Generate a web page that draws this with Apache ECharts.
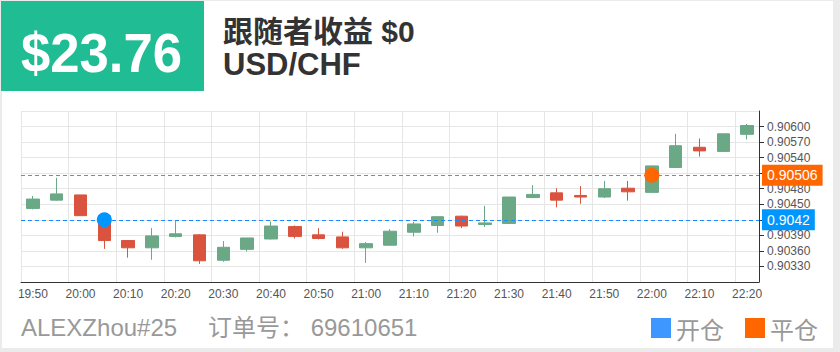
<!DOCTYPE html>
<html>
<head>
<meta charset="utf-8">
<script src="https://cdn.jsdelivr.net/npm/echarts@6/dist/echarts.min.js"></script>
<style>
  html, body { margin: 0; padding: 0; }
  body { width: 840px; height: 352px; background: #ebebeb; position: relative; overflow: hidden; }
  .panel { position: absolute; left: 2px; top: 1px; width: 831px; height: 347px; background: #fff; }
  .profit { position: absolute; left: 1px; top: 1px; width: 203px; height: 90px; background: #20bc94; }
  .txt { position: absolute; white-space: nowrap; font-family: "Liberation Sans", "Noto Sans CJK SC", sans-serif; }
  .profit-val { left: 21px; top: 25px; font-size: 56px; line-height: 56px; font-weight: bold; color: #fff;
                transform: scaleX(0.94); transform-origin: left top; }
  .follow { left: 223px; top: 17px; font-size: 30px; line-height: 30px; font-weight: bold; color: #333; }
  .symbol { left: 223px; top: 49px; font-size: 31px; line-height: 31px; font-weight: bold; color: #333; }
  .footer { top: 316px; font-size: 24px; line-height: 24px; color: #999; }
  #viewEcharts { position: absolute; left: 0; top: 0; width: 840px; height: 352px; }
</style>
</head>
<body>
<div class="panel"></div>
<div class="profit"></div>
<div class="txt profit-val">$23.76</div>
<div class="txt follow">跟随者收益 $0</div>
<div class="txt symbol">USD/CHF</div>
<div class="txt footer" style="left:21px;">ALEXZhou#25</div>
<div class="txt footer" style="left:208px;">订单号： 69610651</div>
<div id="viewEcharts"></div>
<script>
// 5分钟K线
var times = ['19:50','19:55','20:00','20:05','20:10','20:15','20:20','20:25','20:30','20:35',
             '20:40','20:45','20:50','20:55','21:00','21:05','21:10','21:15','21:20','21:25',
             '21:30','21:35','21:40','21:45','21:50','21:55','22:00','22:05','22:10','22:15','22:20'];
var opens  = [0.90442,0.90458,0.90468,0.90428,0.90380,0.90366,0.90388,0.90391,0.90342,0.90363,
              0.90383,0.90407,0.90391,0.90387,0.90366,0.90371,0.90396,0.90409,0.90427,0.90411,
              0.90413,0.90463,0.90472,0.90467,0.90464,0.90481,0.90473,0.90521,0.90560,0.90552,0.90585];
var closes = [0.90460,0.90470,0.90428,0.90380,0.90366,0.90389,0.90393,0.90341,0.90367,0.90385,
              0.90408,0.90388,0.90384,0.90366,0.90374,0.90398,0.90412,0.90426,0.90408,0.90414,
              0.90464,0.90469,0.90458,0.90464,0.90480,0.90474,0.90524,0.90563,0.90553,0.90586,0.90602];
var lows   = [0.90440,0.90457,0.90428,0.90364,0.90347,0.90343,0.90386,0.90335,0.90339,0.90359,
              0.90382,0.90384,0.90382,0.90364,0.90337,0.90370,0.90388,0.90395,0.90404,0.90406,
              0.90413,0.90462,0.90444,0.90451,0.90462,0.90457,0.90473,0.90521,0.90542,0.90551,0.90575];
var highs  = [0.90466,0.90501,0.90468,0.90430,0.90381,0.90404,0.90418,0.90392,0.90379,0.90385,
              0.90417,0.90409,0.90404,0.90397,0.90377,0.90402,0.90416,0.90427,0.90428,0.90447,
              0.90464,0.90487,0.90481,0.90485,0.90495,0.90495,0.90524,0.90586,0.90577,0.90586,0.90605];

// 开仓 / 平仓
var openTime = '20:05';
var openPrice = 0.9042;
var closeTime = '22:00';
var closePrice = 0.90506;

// y轴刻度
var yMin = 0.903;
var yMax = 0.9063;
var yStep = 0.0003;

var candleData = times.map(function (t, i) {
  return [opens[i], closes[i], lows[i], highs[i]];
});

function priceLine(price, lineColor, boxColor) {
  return {
    silent: true,
    symbol: ['none', 'none'],
    precision: 5,
    label: {
      show: true,
      position: 'end',
      distance: 3,
      formatter: '{b}',
      color: '#fff',
      fontSize: 14,
      fontFamily: 'Liberation Sans',
      padding: [4, 5, 3, 5],
      backgroundColor: boxColor
    },
    lineStyle: { color: lineColor, type: [4, 3], width: 1, opacity: 1 },
    data: [{ name: String(price), yAxis: price }]
  };
}

var myChart = echarts.init(document.getElementById('viewEcharts'), null, { renderer: 'svg' });
var option = {
  animation: false,
  legend: {
    left: 651,
    top: 316,
    padding: 0,
    itemWidth: 20,
    itemHeight: 20,
    itemGap: 21,
    icon: 'rect',
    textStyle: { fontSize: 24, color: '#999', fontFamily: 'Noto Sans CJK SC' },
    data: [
      { name: '开仓', icon: 'rect', itemStyle: { color: '#3d97ff' } },
      { name: '平仓', icon: 'rect', itemStyle: { color: '#ff6600' } }
    ]
  },
  grid: { left: 21, right: 81, top: 111, bottom: 70 },
  xAxis: {
    type: 'category',
    data: times,
    boundaryGap: true,
    axisLine: { lineStyle: { color: '#333' } },
    axisTick: { alignWithLabel: true, interval: 1, length: 5, lineStyle: { color: '#333' } },
    axisLabel: { interval: 1, margin: 6, fontSize: 12, color: '#555', fontFamily: 'Liberation Sans' },
    splitLine: { show: true, interval: 1, lineStyle: { color: '#e6e6e6' } }
  },
  yAxis: {
    type: 'value',
    position: 'right',
    min: yMin,
    max: yMax,
    interval: yStep,
    axisLine: { show: true, lineStyle: { color: '#333' } },
    axisTick: { show: true, length: 5, lineStyle: { color: '#333' } },
    axisLabel: {
      margin: 8, fontSize: 12, color: '#555', fontFamily: 'Liberation Sans',
      showMinLabel: false, showMaxLabel: false,
      formatter: function (v) {
        // 被价格标签盖住的刻度不显示
        if (Math.abs(v - openPrice) < yStep / 2 || Math.abs(v - closePrice) < yStep / 2) return '';
        return v.toFixed(5);
      }
    },
    splitLine: { show: true, lineStyle: { color: '#e6e6e6' } }
  },
  series: [
    {
      name: 'K',
      type: 'candlestick',
      barWidth: 13,
      data: candleData,
      itemStyle: {
        color: '#6aa886',
        color0: '#d9533f',
        borderColor: '#6aa886',
        borderColor0: '#d9533f',
        borderWidth: 1
      }
    },
    {
      name: '开仓',
      type: 'scatter',
      symbolSize: 15,
      legendIcon: 'rect',
      itemStyle: { color: '#0096ff', opacity: 1 },
      data: [[openTime, openPrice]],
      markLine: priceLine(openPrice, '#1a8cff', '#0096ff'),
      z: 5
    },
    {
      name: '平仓',
      type: 'scatter',
      symbolSize: 15,
      legendIcon: 'rect',
      itemStyle: { color: '#ff6600', opacity: 1 },
      data: [[closeTime, closePrice]],
      markLine: priceLine(closePrice, '#ff6600', '#ff6600'),
      z: 5
    }
  ]
};
myChart.setOption(option);
</script>
</body>
</html>
